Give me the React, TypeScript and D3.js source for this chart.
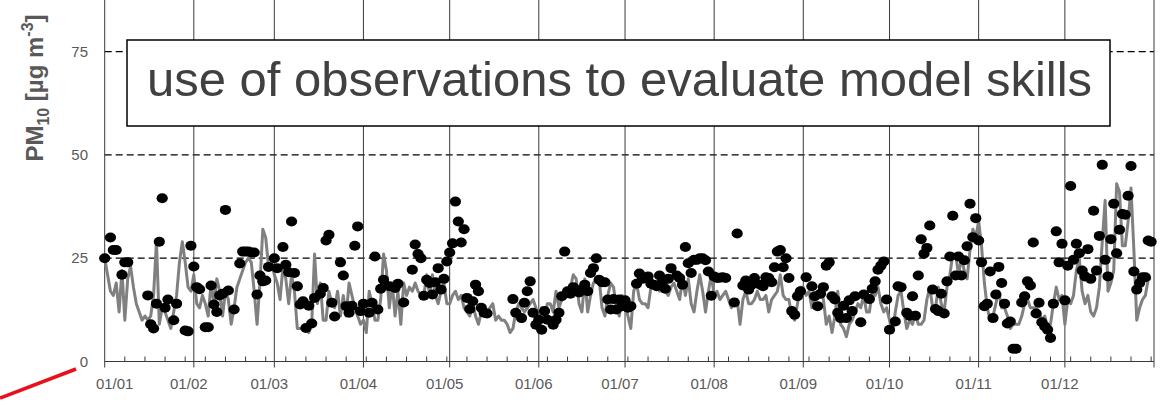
import React, { useEffect, useRef } from 'react';
import * as d3 from 'd3';

const year = 2013;
const monthLabels = ['01/01', '01/02', '01/03', '01/04', '01/05', '01/06', '01/07', '01/08', '01/09', '01/10', '01/11', '01/12'];
const yTicks = [0, 25, 50, 75];

// modelled daily PM10 (grey line)
const modelJan = [25, 21, 17, 16, 19, 12, 22, 10, 20, 23, 18, 14, 12, 10, 11, 10, 11, 16, 29, 9, 13, 12, 10, 8, 12, 16, 24, 29, 24, 18, 17];
const modelFeb = [21, 14, 13, 16, 14, 11, 19, 14, 20, 17, 11, 17, 15, 9, 13, 18, 20, 22, 24, 25, 24, 17, 9, 19, 32, 30, 23, 24];
const modelMar = [21, 19, 15, 23, 20, 14, 21, 17, 8, 8, 8, 8, 7, 9, 26, 14, 19, 10, 10, 17, 14, 13, 17, 11, 16, 11, 19, 16, 13, 11, 9];
const modelApr = [10, 7, 17, 14, 10, 10, 15, 26, 22, 13, 19, 11, 17, 9, 19, 16, 18, 17, 19, 17, 16, 16, 21, 16, 21, 16, 14, 17, 19, 14];
const modelMay = [14, 16, 17, 15, 16, 13, 12, 11, 14, 11, 9, 12, 11, 12, 13, 14, 10, 11, 10, 10, 9, 7, 8, 12, 14, 13, 12, 13, 14, 15, 13];
const modelJun = [10, 13, 11, 14, 14, 12, 17, 13, 15, 16, 17, 18, 21, 20, 14, 12, 20, 12, 16, 19, 20, 20, 13, 11, 16, 19, 18, 13, 11, 16];
const modelJul = [14, 11, 8, 17, 19, 15, 14, 14, 13, 18, 19, 18, 17, 19, 17, 16, 18, 19, 17, 15, 20, 16, 20, 14, 12, 17, 21, 17, 12, 17, 21];
const modelAug = [16, 17, 15, 16, 17, 15, 13, 15, 15, 9, 15, 17, 14, 14, 15, 17, 15, 15, 16, 12, 15, 16, 17, 21, 16, 15, 15, 11, 10, 14, 18];
const modelSep = [18, 16, 17, 13, 16, 17, 17, 15, 9, 11, 7, 11, 17, 9, 8, 6, 9, 10, 12, 14, 13, 16, 12, 12, 17, 16, 18, 14, 12, 13];
const modelOct = [10, 7, 12, 16, 17, 12, 8, 10, 9, 12, 9, 9, 10, 15, 18, 13, 13, 18, 14, 12, 18, 21, 26, 26, 21, 25, 22, 20, 27, 32, 30];
const modelNov = [34, 28, 19, 13, 10, 11, 14, 17, 13, 13, 11, 8, 9, 9, 9, 11, 14, 15, 13, 13, 13, 12, 10, 11, 8, 9, 14, 18, 15, 16];
const modelDec = [9, 15, 14, 16, 22, 25, 17, 14, 16, 12, 11, 13, 18, 29, 39, 17, 19, 22, 43, 41, 28, 28, 34, 42, 27, 10, 13, 15, 16, 20, 20];

// observed daily PM10 (black dots), null = no observation
const obsJan = [25, null, 30, 27, 27, null, 21, 24, 24, null, null, null, null, null, null, 16, 9, 8, 14, 29, 39.5, 13, 15, null, 10, 14, null, null, 7.5, 7.3, 28];
const obsFeb = [23, 18, 17.5, null, 8.3, 8.3, 18.4, 13.8, 12, 16, 16.4, 36.7, 17.2, null, 12.6, null, 23.7, 26.6, 26.6, 26.6, 26.4, 26.4, 16.2, 20.8, 19.4, 19.6, 22.9, null];
const obsMar = [25, 22.6, null, 27.7, 23.4, 21.6, 33.9, 21.4, 18.2, 13.8, 14.6, 8.1, 13.5, 9.2, 15.4, null, 16.4, 17.8, 29.3, 30.7, 14.2, 10.9, null, 24, 20.8, 13.4, 11.8, 13.5, 28, 32.7, 12.2];
const obsApr = [14, null, 11.8, 14.2, 25.4, 12.6, 17.6, 19.8, null, 18.2, null, 17.8, 18.8, null, 14.3, null, null, 22.2, 28.3, 26, 25, 15.9, 19.8, 19, 16.2, 19.2, 22.6, 17.4, 20, 24.2];
const obsMay = [26.4, 28.6, 38.7, 33.9, 28.8, 32, 15.4, 12.7, 14.6, 18.6, 17, 13, 11.8, 11.6, null, null, null, null, null, null, null, null, 15.1, 11.8, null, 10.5, 14.2, 17, 19.4, 11.8, 8.9];
const obsJun = [10.1, 7.7, 12.2, 10.1, null, 8.9, 10.1, 11.8, 15.8, 26.6, 17, 16.4, 18, 17, 16.7, 17.4, 18.6, 17, 21.4, 22.6, 25, 19.8, 19.2, 19.2, 15, 12.6, 15.1, 12.6, 15, 13.4];
const obsJul = [14.8, 13, 13.4, null, 18.8, 21.3, 20, null, 20.6, 18.8, 18.6, 18.2, 20.8, 19.4, 17.6, 20, 22.6, null, 20.8, 20.2, 18.6, 27.7, 23.8, 21.4, 24.6, 24.6, 25, 25, 24.5, 21.8, 15.9];
const obsAug = [20.6, 20.2, 20.3, 20.4, 20.2, null, null, 14.3, 31, null, 18.4, 19.6, 17.4, 18.6, 20.2, null, 18.6, 18.2, 20.4, 20.2, 19.2, 22.8, 26.6, 27, 22.8, 25, 20.2, 12.2, 11.3, 15.8, 17];
const obsSep = [null, 20.4, null, 18.2, 15.8, 13.4, 16.4, 18, 23.2, 24, 15.8, 15, 11.8, 10.5, 13.5, 10.5, 14.8, 12.2, 15.8, null, 9.5, 16.2, null, 15.1, 17.6, 19.4, 22.2, 23.2, 24.2, 15];
const obsOct = [7.7, null, 9.7, 18.2, 18, null, 11.8, 11.1, 15.8, 11.1, 20.8, 29.6, 26.1, 27.5, 32.9, 17.4, 12.7, 12.2, 16.4, 11.6, 19.4, 25.4, 35.3, 20.8, 25.4, 20.8, 24.5, 27.9, 38.2, 30.1, 34.7];
const obsNov = [29.3, 24, 13.4, 14, 21.8, 10.5, 16.2, 22.9, 19, 14, 9.2, 9.7, 3.1, 3.1, null, 14.3, 15.8, 19.4, 18.4, 28.8, 11.6, 14.2, 9.5, 8.5, 7.7, 5.7, 14, 31.5, 24, 28.5];
const obsDec = [14.8, 23.2, 42.5, 24.6, 28.5, 26.2, 22, 20.6, 27.2, 20, 36.5, 22, 30.4, 47.6, 24.6, 20.6, 29.6, 38.2, 26.2, 31.9, 35.7, 35.5, 40.1, 47.3, 21.8, 17.4, 19, 20.4, 20.4, 29.3, 29];

const model = [...modelJan, ...modelFeb, ...modelMar, ...modelApr, ...modelMay, ...modelJun,
  ...modelJul, ...modelAug, ...modelSep, ...modelOct, ...modelNov, ...modelDec];
const obs = [...obsJan, ...obsFeb, ...obsMar, ...obsApr, ...obsMay, ...obsJun,
  ...obsJul, ...obsAug, ...obsSep, ...obsOct, ...obsNov, ...obsDec];

const W = 1161;
const H = 402;
const font = '"Liberation Sans", Arial, sans-serif';
const grey = '#595959';

const day = (i: number) => new Date(year, 0, 1 + i);

const Chart = () => {
  const ref = useRef<SVGSVGElement>(null);

  useEffect(() => {
    const svg = d3.select(ref.current);
    svg.selectAll('*').remove();

    const x = d3.scaleTime()
      .domain([new Date(year, 0, 1), new Date(year + 1, 0, 1)])
      .range([104.7, 1154]);
    const y = d3.scaleLinear().domain([0, 87.5]).range([361.5, 0]);
    const [x0, x1] = x.range();

    // dashed horizontal gridlines
    svg.append('g')
      .selectAll('line')
      .data(yTicks.filter((d) => d > 0))
      .enter()
      .append('line')
      .attr('x1', x0)
      .attr('x2', x1)
      .attr('y1', (d) => y(d))
      .attr('y2', (d) => y(d))
      .attr('stroke', '#000')
      .attr('stroke-width', 1.2)
      .attr('stroke-dasharray', '7,4');

    // month gridlines (also left axis and right border)
    const months = d3.timeMonth.range(new Date(year, 0, 1), new Date(year + 1, 0, 2));
    svg.append('g')
      .selectAll('line')
      .data(months)
      .enter()
      .append('line')
      .attr('x1', (d) => x(d))
      .attr('x2', (d) => x(d))
      .attr('y1', 0)
      .attr('y2', y(0) + 6)
      .attr('stroke', '#3a3a3a')
      .attr('stroke-width', 1);

    // x axis line + weekly ticks
    svg.append('line')
      .attr('x1', x0)
      .attr('x2', x1)
      .attr('y1', y(0))
      .attr('y2', y(0))
      .attr('stroke', '#3a3a3a')
      .attr('stroke-width', 1.2);

    svg.append('g')
      .selectAll('line')
      .data(d3.range(7, 365, 7))
      .enter()
      .append('line')
      .attr('x1', (d) => x(day(d)))
      .attr('x2', (d) => x(day(d)))
      .attr('y1', y(0))
      .attr('y2', y(0) - 5)
      .attr('stroke', '#3a3a3a')
      .attr('stroke-width', 1);

    // y tick labels
    svg.append('g')
      .selectAll('text')
      .data(yTicks)
      .enter()
      .append('text')
      .attr('x', 88)
      .attr('y', (d) => y(d))
      .attr('dy', '0.35em')
      .attr('text-anchor', 'end')
      .style('font-family', font)
      .style('font-size', '15px')
      .style('fill', grey)
      .text((d) => d);

    // x tick labels
    svg.append('g')
      .selectAll('text')
      .data(monthLabels)
      .enter()
      .append('text')
      .attr('x', (d, i) => x(new Date(year, i, 1)) + (i === 0 ? 10 : -5))
      .attr('y', 389)
      .attr('text-anchor', 'middle')
      .style('font-family', font)
      .style('font-size', '15px')
      .style('fill', grey)
      .text((d) => d);

    // model line
    const line = d3.line<number>()
      .x((d, i) => x(day(i)))
      .y((d) => y(d));

    svg.append('path')
      .datum(model)
      .attr('d', line)
      .attr('fill', 'none')
      .attr('stroke', '#808080')
      .attr('stroke-width', 3)
      .attr('stroke-linejoin', 'round');

    // observations
    svg.append('g')
      .selectAll('ellipse')
      .data(obs.map((v, i) => ({ v, i })).filter((d) => d.v !== null))
      .enter()
      .append('ellipse')
      .attr('cx', (d) => x(day(d.i)))
      .attr('cy', (d) => y(d.v as number))
      .attr('rx', 5.6)
      .attr('ry', 5)
      .attr('fill', '#000');

    // y axis title
    const yt = svg.append('text')
      .attr('transform', 'translate(43,88) rotate(-90)')
      .attr('text-anchor', 'middle')
      .style('font-family', font)
      .style('font-size', '24px')
      .style('font-weight', 'bold')
      .style('fill', grey);
    yt.append('tspan').text('PM');
    yt.append('tspan').attr('dy', 6).style('font-size', '16px').text('10');
    yt.append('tspan').attr('dy', -6).text(' [µg m');
    yt.append('tspan').attr('dy', -10).style('font-size', '16px').text('-3');
    yt.append('tspan').attr('dy', 10).text(']');

    // annotation box
    svg.append('rect')
      .attr('x', 127)
      .attr('y', 40)
      .attr('width', 983)
      .attr('height', 86)
      .attr('fill', '#fff')
      .attr('stroke', '#000')
      .attr('stroke-width', 1.5);

    svg.append('text')
      .attr('x', 147)
      .attr('y', 96)
      .style('font-family', font)
      .style('font-size', '49px')
      .style('fill', '#404040')
      .text('use of observations to evaluate model skills');

    // red arrow fragment
    svg.append('line')
      .attr('x1', 0)
      .attr('y1', 398)
      .attr('x2', 76)
      .attr('y2', 369)
      .attr('stroke', '#e8101a')
      .attr('stroke-width', 3.5);
  }, []);

  return <svg ref={ref} width={W} height={H} style={{ display: 'block' }} />;
};

export default function App() {
  return (
    <div style={{ position: 'absolute', left: 0, top: 0, width: W, height: H, background: '#fff' }}>
      <Chart />
    </div>
  );
}
